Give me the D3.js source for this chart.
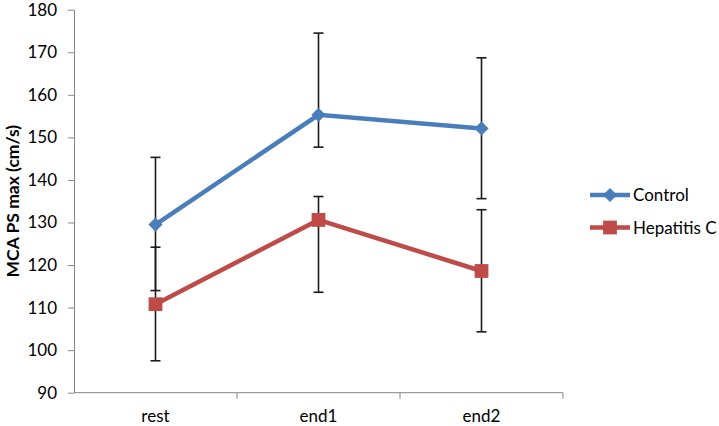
<!DOCTYPE html>
<html>
    <head>
        <meta charset="utf-8"/>
        <script src="https://cdnjs.cloudflare.com/ajax/libs/d3/7.8.5/d3.min.js"></script>
        <style>
            body { margin: 0; background: #fff; }
            text { font-family: Lato, "Open Sans", sans-serif; }
        </style>
    </head>
    <body>
        <script>
            // values
            const categories = ["rest", "end1", "end2"];
            const controlMean = [129.5, 155.3, 152.1];
            const controlUpper = [145.3, 174.5, 168.7];
            const controlLower = [114.0, 147.7, 135.6];
            const hepMean = [110.8, 130.6, 118.6];
            const hepUpper = [124.2, 136.1, 133.0];
            const hepLower = [97.5, 113.6, 104.3];
            const yTicks = [90, 100, 110, 120, 130, 140, 150, 160, 170, 180];

            const series = [
                { name: "Control", color: "#4a7ebb", shape: "diamond", mean: controlMean, upper: controlUpper, lower: controlLower },
                { name: "Hepatitis C", color: "#be4b48", shape: "square", mean: hepMean, upper: hepUpper, lower: hepLower }
            ];

            const width = 719, height = 426;
            const plot = { left: 74, right: 563, top: 9.7, bottom: 392.7 };

            const svg = d3.select("body").append("svg")
                .attr("width", width)
                .attr("height", height);

            const x = d3.scaleBand().domain(categories).range([plot.left, plot.right]);
            const y = d3.scaleLinear().domain([90, 180]).range([plot.bottom, plot.top]);
            const cx = c => x(c) + x.bandwidth() / 2;

            // y axis
            const yAxis = svg.append("g")
                .attr("transform", `translate(${plot.left},0)`)
                .call(d3.axisLeft(y).tickValues(yTicks).tickSize(6).tickPadding(11).tickSizeOuter(0));
            yAxis.select(".domain").attr("stroke", "#868686");
            yAxis.selectAll(".tick line").attr("stroke", "#868686");
            yAxis.selectAll(".tick text").attr("font-size", 17).attr("fill", "#000");

            // x axis, ticks between categories
            const xAxis = svg.append("g")
                .attr("transform", `translate(0,${plot.bottom})`)
                .call(d3.axisBottom(x).tickSize(0).tickPadding(17));
            xAxis.select(".domain").remove();
            xAxis.selectAll(".tick text").attr("font-size", 17).attr("fill", "#000");
            xAxis.append("line")
                .attr("x1", plot.left).attr("x2", plot.right)
                .attr("stroke", "#868686");
            xAxis.selectAll(".sep")
                .data(categories)
                .join("line")
                .attr("class", "sep")
                .attr("x1", d => x(d) + x.bandwidth())
                .attr("x2", d => x(d) + x.bandwidth())
                .attr("y1", 0).attr("y2", 6)
                .attr("stroke", "#868686");

            svg.append("text")
                .attr("transform", `translate(19,${(plot.top + plot.bottom) / 2}) rotate(-90)`)
                .attr("text-anchor", "middle")
                .attr("font-size", 17.5)
                .attr("font-weight", "bold")
                .text("MCA PS max (cm/s)");

            const line = d3.line().x((d, i) => cx(categories[i])).y(d => y(d));

            // diamond = square turned 45 degrees, like the spreadsheet marker
            const markerPath = s => s.shape === "diamond"
                ? d3.symbol().type(d3.symbolSquare).size(100)()
                : d3.symbol().type(d3.symbolSquare).size(190)();
            const markerTurn = s => s.shape === "diamond" ? " rotate(45)" : "";

            series.forEach(s => {
                svg.append("path")
                    .datum(s.mean)
                    .attr("fill", "none")
                    .attr("stroke", s.color)
                    .attr("stroke-width", 4.5)
                    .attr("d", line);
            });

            // error bars drawn on top of lines
            series.forEach(s => {
                const g = svg.append("g").attr("stroke", "#1a1a1a").attr("stroke-width", 1.6);
                categories.forEach((c, i) => {
                    g.append("line")
                        .attr("x1", cx(c)).attr("x2", cx(c))
                        .attr("y1", y(s.upper[i])).attr("y2", y(s.lower[i]));
                    [s.upper[i], s.lower[i]].forEach(v => {
                        g.append("line")
                            .attr("x1", cx(c) - 5).attr("x2", cx(c) + 5)
                            .attr("y1", y(v)).attr("y2", y(v));
                    });
                });
            });

            series.forEach(s => {
                svg.append("g").selectAll("path")
                    .data(s.mean)
                    .join("path")
                    .attr("transform", (d, i) => `translate(${cx(categories[i])},${y(d)})${markerTurn(s)}`)
                    .attr("fill", s.color)
                    .attr("d", markerPath(s));
            });

            // legend
            const legend = svg.append("g").attr("transform", "translate(590,195)");
            series.forEach((s, i) => {
                const g = legend.append("g").attr("transform", `translate(0,${i * 32.5})`);
                g.append("line")
                    .attr("x1", 0).attr("x2", 40)
                    .attr("stroke", s.color).attr("stroke-width", 4.5);
                g.append("path")
                    .attr("transform", `translate(20,0)${markerTurn(s)}`)
                    .attr("fill", s.color)
                    .attr("d", markerPath(s));
                g.append("text")
                    .attr("x", 43).attr("y", 6)
                    .attr("font-size", 17)
                    .text(s.name);
            });
        </script>
    </body>
</html>
